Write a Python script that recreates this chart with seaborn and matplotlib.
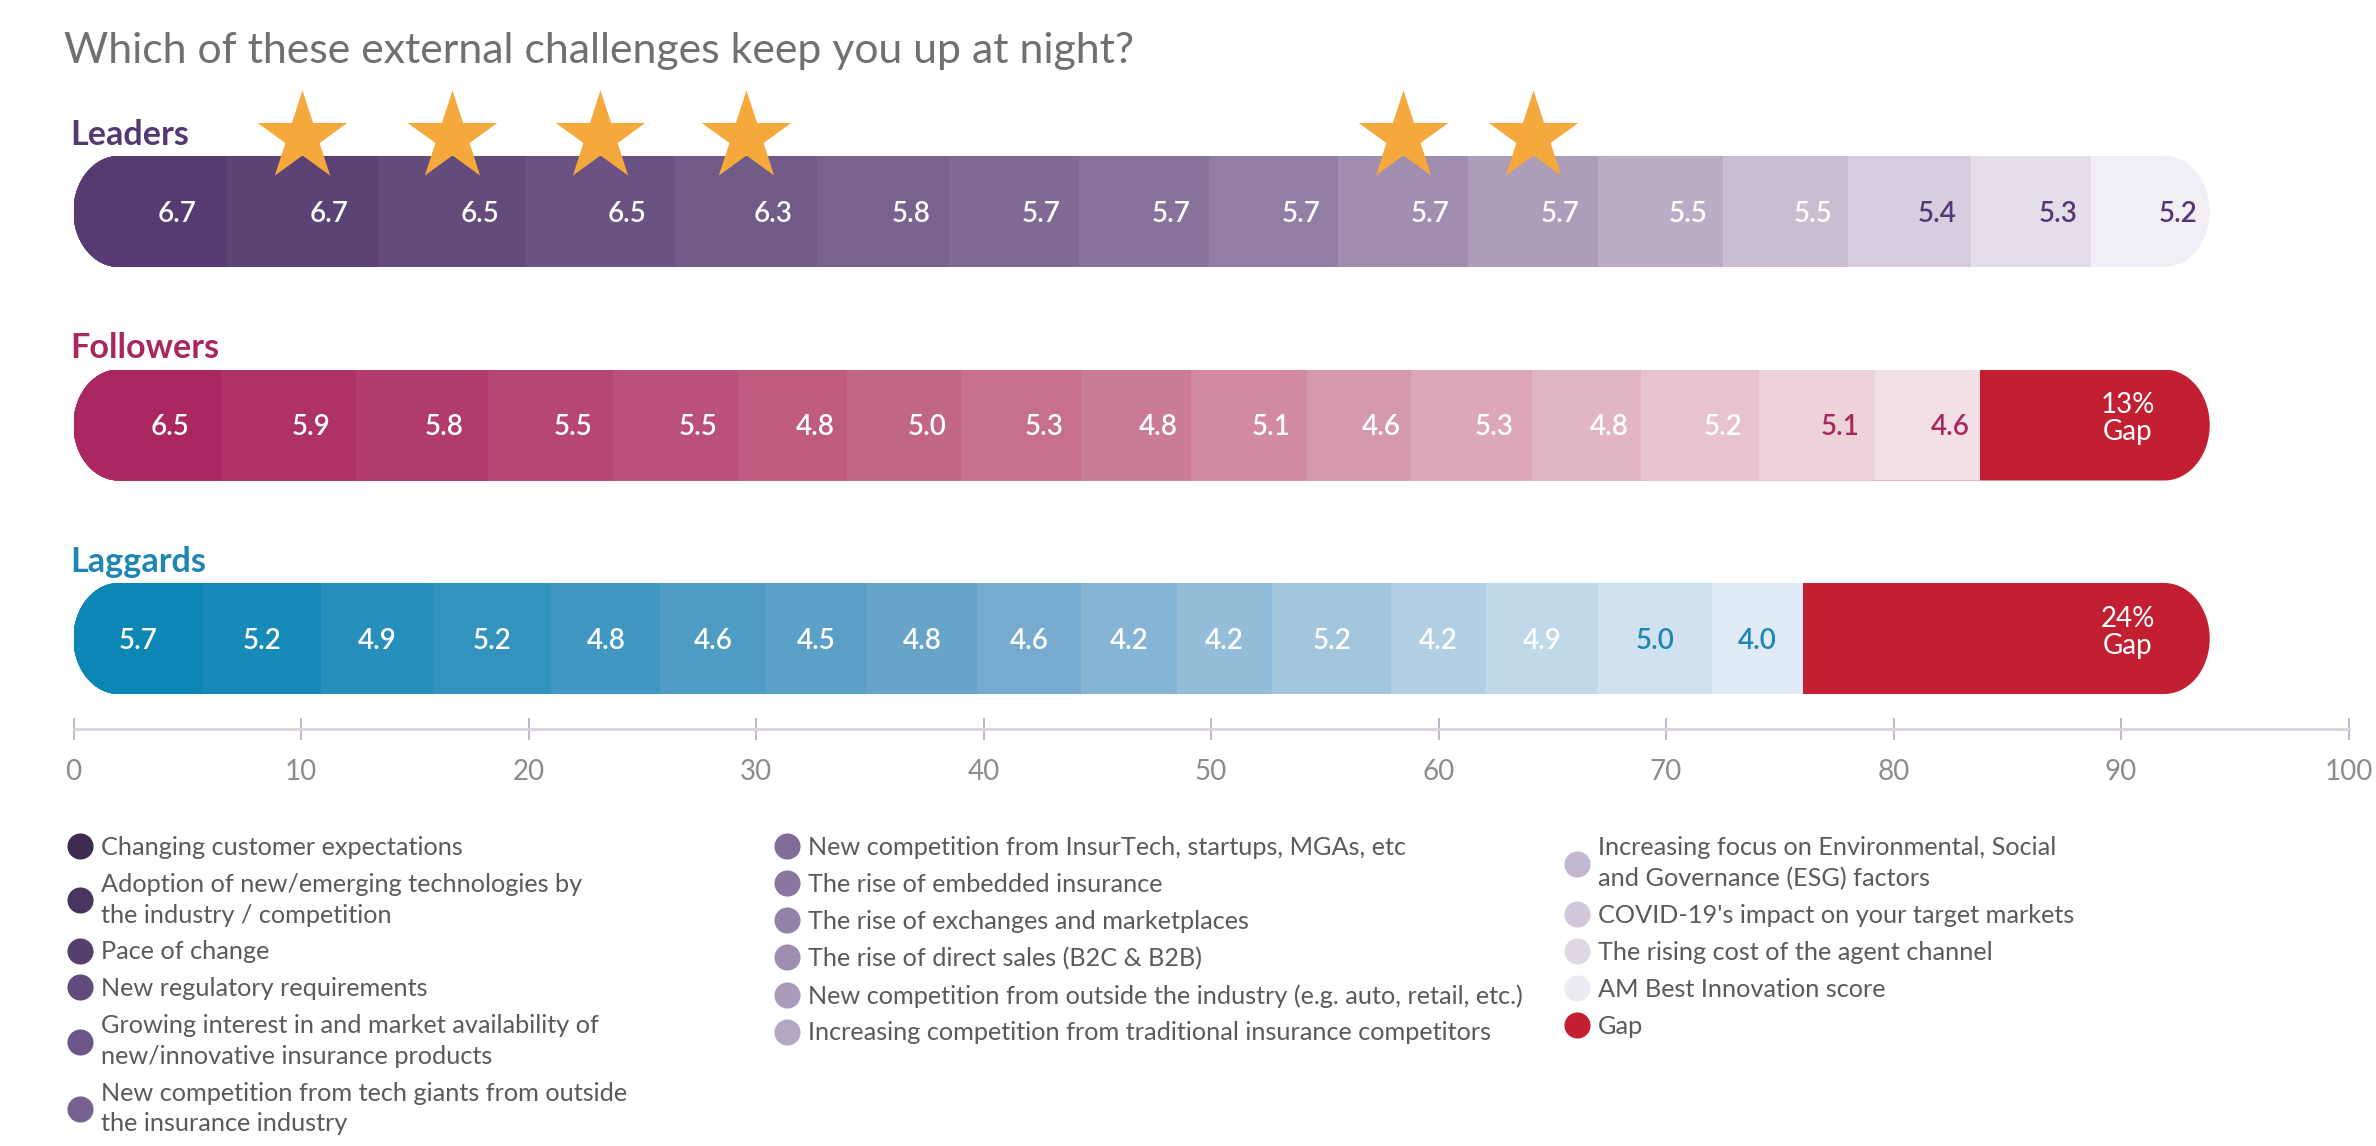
import numpy as np
import pandas as pd
import matplotlib
matplotlib.use("Agg")
import matplotlib.pyplot as plt
from matplotlib.patches import PathPatch
from matplotlib.path import Path
from matplotlib.lines import Line2D
import seaborn as sns

# ---------------- data ----------------
title = "Which of these external challenges keep you up at night?"
groups = ["Leaders", "Followers", "Laggards"]
challenges = [
    "Changing customer expectations",
    "Adoption of new/emerging technologies by\nthe industry / competition",
    "Pace of change",
    "New regulatory requirements",
    "Growing interest in and market availability of\nnew/innovative insurance products",
    "New competition from tech giants from outside\nthe insurance industry",
    "New competition from InsurTech, startups, MGAs, etc",
    "The rise of embedded insurance",
    "The rise of exchanges and marketplaces",
    "The rise of direct sales (B2C & B2B)",
    "New competition from outside the industry (e.g. auto, retail, etc.)",
    "Increasing competition from traditional insurance competitors",
    "Increasing focus on Environmental, Social\nand Governance (ESG) factors",
    "COVID-19's impact on your target markets",
    "The rising cost of the agent channel",
    "AM Best Innovation score",
]
gap_name = "Gap"
leaders_scores = [6.7, 6.7, 6.5, 6.5, 6.3, 5.8, 5.7, 5.7, 5.7, 5.7, 5.7, 5.5, 5.5, 5.4, 5.3, 5.2]
followers_scores = [6.5, 5.9, 5.8, 5.5, 5.5, 4.8, 5.0, 5.3, 4.8, 5.1, 4.6, 5.3, 4.8, 5.2, 5.1, 4.6]
laggards_scores = [5.7, 5.2, 4.9, 5.2, 4.8, 4.6, 4.5, 4.8, 4.6, 4.2, 4.2, 5.2, 4.2, 4.9, 5.0, 4.0]
gap_pct_labels = ["", "13%", "24%"]
leader_star_flags = [0, 1, 1, 1, 1, 0, 0, 0, 0, 1, 1, 0, 0, 0, 0, 0]
x_ticks = [0, 10, 20, 30, 40, 50, 60, 70, 80, 90, 100]

# ---------------- style ----------------
W, H, DPI = 2376, 1146, 200
sns.set_theme(style="white")
plt.rcParams["font.family"] = ["Lato", "DejaVu Sans"]

N = len(challenges)
palettes = {
    "Leaders": sns.blend_palette(["#553b70", "#8a769d", "#f1eef5"], N),
    "Followers": sns.blend_palette(["#aa285f", "#c8758f", "#f3e0e6"], N),
    "Laggards": sns.blend_palette(["#0b86b5", "#6fa6cc", "#dfeaf4"], N),
}
legend_palette = sns.blend_palette(["#3d2b50", "#6a5387", "#8e7ca3", "#b7acc6", "#eeeaf2"], N)
gap_color = "#c21f32"
label_colors = {"Leaders": "#533874", "Followers": "#a8285e", "Laggards": "#1f86b3"}
dark_text_n = {"Leaders": 3, "Followers": 2, "Laggards": 2}
label_dx = {"Leaders": 1.2, "Followers": 1.0, "Laggards": 0.0}
star_color = "#f5a83b"

PX_PER_UNIT = 22.75
X0_PX = 73.5
AX_BOTTOM_PX = 729
ROW0_PX, ROW_PITCH = 211.5, 213.5
BAR_H = 111 / ROW_PITCH
RX = 2.0

# ---------------- data frame ----------------
scores = {"Leaders": leaders_scores, "Followers": followers_scores, "Laggards": laggards_scores}
full = float(np.sum(leaders_scores))
rows = []
for g in groups:
    vals = scores[g]
    ends = np.cumsum(vals)
    for k, (v, e) in enumerate(zip(vals, ends)):
        rows.append(dict(group=g, seg=k, value=v, start=e - v, end=e))
    gap = full - ends[-1]
    if gap > 0.05:
        rows.append(dict(group=g, seg=N, value=gap, start=ends[-1], end=full))
df = pd.DataFrame(rows)

# ---------------- figure ----------------
fig = plt.figure(figsize=(W / DPI, H / DPI), dpi=DPI)
ax = fig.add_axes([0, 1 - AX_BOTTOM_PX / H, 1, AX_BOTTOM_PX / H])

seg_colors = {g: list(palettes[g]) + [gap_color] for g in groups}
for k in sorted(df.seg.unique(), reverse=True):
    sub = df[df.seg == k]
    sns.barplot(data=sub, x="end", y="group", order=groups, hue="group", hue_order=groups,
                palette={g: seg_colors[g][k] for g in groups}, dodge=False, width=BAR_H,
                orient="h", errorbar=None, saturation=1, linewidth=0, legend=False, ax=ax)


def pill_path(x0, x1, yc, h, rx, n=60):
    ry = h / 2
    t_r = np.linspace(-np.pi / 2, np.pi / 2, n)
    t_l = np.linspace(np.pi / 2, 3 * np.pi / 2, n)
    right = np.column_stack([x1 - rx + rx * np.cos(t_r), yc + ry * np.sin(t_r)])
    left = np.column_stack([x0 + rx + rx * np.cos(t_l), yc + ry * np.sin(t_l)])
    verts = np.vstack([right, left, right[:1]])
    codes = [Path.MOVETO] + [Path.LINETO] * (len(verts) - 2) + [Path.CLOSEPOLY]
    return Path(verts, codes)


pills = []
for i, g in enumerate(groups):
    end = df[df.group == g].end.max()
    pills.append(PathPatch(pill_path(0, end, i, BAR_H, RX), transform=ax.transData,
                           fc="none", ec="none"))
for bar in list(ax.patches):
    yc = bar.get_y() + bar.get_height() / 2
    bar.set_clip_path(pills[int(round(yc))])

# value labels
for i, g in enumerate(groups):
    sub = df[(df.group == g) & (df.seg < N)]
    n = len(sub)
    for _, r in sub.iterrows():
        dark = r.seg >= n - dark_text_n[g]
        ax.text((r.start + r.end) / 2 + label_dx[g], i + 0.01, f"{r.value:.1f}",
                ha="center", va="center", fontsize=10, fontweight="semibold",
                color=label_colors[g] if dark else "white", zorder=6)
    gsub = df[(df.group == g) & (df.seg == N)]
    if len(gsub):
        ax.text(full - 3.6, i - 0.03, f"{gap_pct_labels[i]}\n{gap_name}", ha="center",
                va="center", fontsize=10, color="white", linespacing=1.05, zorder=6)
    ax.text(-0.15, i - BAR_H / 2 - 11 / ROW_PITCH, g, ha="left", va="baseline",
            fontsize=12.3, fontweight="bold", color=label_colors[g])

# stars on leaders
lead = df[(df.group == "Leaders") & (df.seg < N)].reset_index(drop=True)
starred = lead[np.array(leader_star_flags, dtype=bool)]
star_y = (137 - ROW0_PX) / ROW_PITCH
ax.scatter((starred.start + starred.end) / 2, np.full(len(starred), star_y), marker="*",
           s=1150, color=star_color, linewidths=0, zorder=7, clip_on=False)

# axes
ax.set_xlim(-X0_PX / PX_PER_UNIT, (W - X0_PX) / PX_PER_UNIT)
ax.set_ylim(2 + (AX_BOTTOM_PX - (ROW0_PX + 2 * ROW_PITCH)) / ROW_PITCH, -ROW0_PX / ROW_PITCH)
ax.set_xticks(x_ticks)
ax.set_yticks([])
ax.set_xlabel("")
ax.set_ylabel("")
for s in ["top", "left", "right"]:
    ax.spines[s].set_visible(False)
ax.spines["bottom"].set_bounds(0, 100)
ax.spines["bottom"].set_color("#dad5de")
ax.spines["bottom"].set_linewidth(1.0)
ax.tick_params(axis="x", bottom=True, direction="inout", length=7.6, width=0.6,
               color="#b9a9c2", labelsize=10, labelcolor="#8c8c8c", pad=7)
ax.patch.set_alpha(0)

# title
fig.text(64 / W, 1 - 63 / H, title, ha="left", va="baseline", fontsize=15.4, color="#707070")

# legend in three columns
handles = [Line2D([], [], marker="o", linestyle="none", markersize=9.4,
                  markerfacecolor=c, markeredgewidth=0) for c in legend_palette]
handles.append(Line2D([], [], marker="o", linestyle="none", markersize=9.4,
                      markerfacecolor=gap_color, markeredgewidth=0))
labels = challenges + [gap_name]
col_slices = [slice(0, 6), slice(6, 12), slice(12, 17)]
col_left_px = [67, 774, 1564]
for sl, xl in zip(col_slices, col_left_px):
    leg = fig.legend(handles[sl], labels[sl], loc="upper left",
                     bbox_to_anchor=(xl / W, 1 - 836 / H), frameon=False, fontsize=9.1,
                     handlelength=1.05, handletextpad=0.3, labelspacing=0.55,
                     borderpad=0, borderaxespad=0, labelcolor="#5a5a5a")
    for t in leg.get_texts():
        t.set_linespacing(1.4)

fig.savefig("out.png", dpi=DPI)
